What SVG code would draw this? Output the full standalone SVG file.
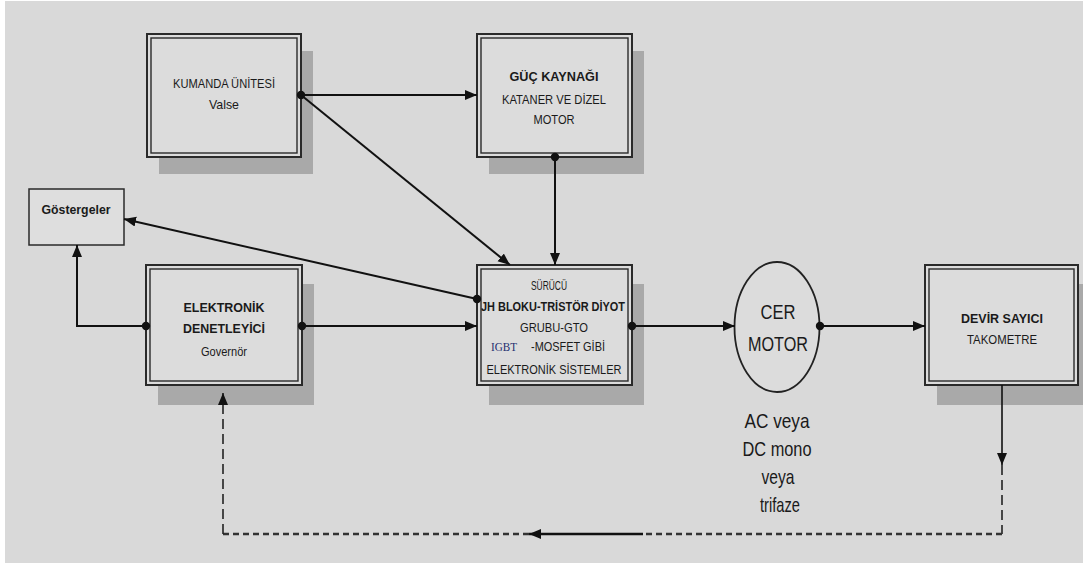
<svg xmlns="http://www.w3.org/2000/svg" width="1083" height="565" viewBox="0 0 1083 565">
  <style>
    .shadow { fill: #a9a9a9; }
    .outer { fill: #dcdcdc; stroke: #2a2a2a; stroke-width: 2; }
    .inner { fill: none; stroke: #2a2a2a; stroke-width: 1.4; }
    .plain { fill: #dedede; stroke: #2a2a2a; stroke-width: 1.5; }
    .t { font-family: "Liberation Sans Narrow", "Liberation Sans", Arial, sans-serif; fill: #1a1a1a; text-anchor: middle; font-size: 13.5px; }
    .b { font-weight: bold; }
    .big { font-size: 21px; }
    .serif { font-family: "Liberation Serif", "Times New Roman", serif; fill: #1f2f70; text-anchor: start; }
    .wire { fill: none; stroke: #111; stroke-width: 2; }
    .dash-v { fill: none; stroke: #222; stroke-width: 1.6; stroke-dasharray: 10 5; }
    .dash-h { fill: none; stroke: #333; stroke-width: 2.6; stroke-dasharray: 6 4; }
  </style>
  <defs>
    <marker id="arrow" markerUnits="userSpaceOnUse" markerWidth="14" markerHeight="12" refX="12" refY="5" orient="auto">
      <path d="M0,0 L12,5 L0,10 z" fill="#111"/>
    </marker>
    <marker id="dot" markerUnits="userSpaceOnUse" markerWidth="10" markerHeight="10" refX="5" refY="5">
      <circle cx="5" cy="5" r="4.2" fill="#111"/>
    </marker>
  </defs>

  <!-- page background -->
  <rect x="0" y="0" width="1083" height="565" fill="#ffffff"/>
  <rect x="5" y="1" width="1078" height="562" fill="#d9d9d9"/>

  <!-- drop shadows -->
  <g id="shadows">
    <rect class="shadow" x="159" y="51" width="154" height="123"/>
    <rect class="shadow" x="489" y="51" width="155" height="123"/>
    <rect class="shadow" x="158" y="284" width="156" height="121"/>
    <rect class="shadow" x="489" y="284" width="155" height="121"/>
    <rect class="shadow" x="937" y="284" width="153" height="121"/>
  </g>

  <g id="kumanda">
    <rect class="outer" x="147" y="34" width="154" height="123"/>
    <rect class="inner" x="151" y="38" width="146" height="115"/>
    <text class="t" x="224" y="88" textLength="102" lengthAdjust="spacingAndGlyphs">KUMANDA ÜNİTESİ</text>
    <text class="t" x="224" y="109" textLength="30" lengthAdjust="spacingAndGlyphs">Valse</text>
  </g>

  <g id="guc-kaynagi">
    <rect class="outer" x="477" y="34" width="155" height="123"/>
    <rect class="inner" x="481" y="38" width="147" height="115"/>
    <text class="t b" x="554" y="81" textLength="89" lengthAdjust="spacingAndGlyphs">GÜÇ KAYNAĞI</text>
    <text class="t" x="554" y="104" textLength="104" lengthAdjust="spacingAndGlyphs">KATANER VE DİZEL</text>
    <text class="t" x="554" y="124" textLength="41" lengthAdjust="spacingAndGlyphs">MOTOR</text>
  </g>

  <g id="gostergeler">
    <rect class="plain" x="29" y="189" width="95" height="56"/>
    <text class="t b" x="76" y="214" textLength="69" lengthAdjust="spacingAndGlyphs">Göstergeler</text>
  </g>

  <g id="elektronik-denetleyici">
    <rect class="outer" x="146" y="265" width="156" height="120"/>
    <rect class="inner" x="150" y="269" width="148" height="112"/>
    <text class="t b" x="224" y="312" textLength="81" lengthAdjust="spacingAndGlyphs">ELEKTRONİK</text>
    <text class="t b" x="224" y="333" textLength="82" lengthAdjust="spacingAndGlyphs">DENETLEYİCİ</text>
    <text class="t" x="224" y="356" textLength="46" lengthAdjust="spacingAndGlyphs">Governör</text>
  </g>

  <g id="surucu">
    <rect class="outer" x="477" y="265" width="155" height="120"/>
    <rect class="inner" x="481" y="269" width="147" height="112"/>
    <text class="t" x="549" y="290" textLength="36" lengthAdjust="spacingAndGlyphs">SÜRÜCÜ</text>
    <text class="t b" x="553" y="311" textLength="144" lengthAdjust="spacingAndGlyphs">JH BLOKU-TRİSTÖR DİYOT</text>
    <text class="t" x="554" y="332" textLength="68" lengthAdjust="spacingAndGlyphs">GRUBU-GTO</text>
    <text class="t serif" x="491" y="351" textLength="26" lengthAdjust="spacingAndGlyphs">IGBT</text>
    <text class="t" x="568" y="351" textLength="74" lengthAdjust="spacingAndGlyphs">-MOSFET GİBİ</text>
    <text class="t" x="554" y="374" textLength="135" lengthAdjust="spacingAndGlyphs">ELEKTRONİK SİSTEMLER</text>
  </g>

  <g id="cer-motor">
    <ellipse cx="777" cy="327" rx="42.5" ry="65" fill="#dcdcdc" stroke="#222" stroke-width="1.8"/>
    <text class="t big" x="778" y="319" textLength="35" lengthAdjust="spacingAndGlyphs">CER</text>
    <text class="t big" x="778" y="351" textLength="60" lengthAdjust="spacingAndGlyphs">MOTOR</text>
    <text class="t big" x="777" y="428" textLength="65" lengthAdjust="spacingAndGlyphs">AC veya</text>
    <text class="t big" x="777" y="456" textLength="69" lengthAdjust="spacingAndGlyphs">DC mono</text>
    <text class="t big" x="778" y="484" textLength="33" lengthAdjust="spacingAndGlyphs">veya</text>
    <text class="t big" x="780" y="512" textLength="40" lengthAdjust="spacingAndGlyphs">trifaze</text>
  </g>

  <g id="devir-sayici">
    <rect class="outer" x="925" y="265" width="153" height="120"/>
    <rect class="inner" x="929" y="269" width="145" height="112"/>
    <text class="t b" x="1002" y="323" textLength="82" lengthAdjust="spacingAndGlyphs">DEVİR SAYICI</text>
    <text class="t" x="1002" y="344" textLength="70" lengthAdjust="spacingAndGlyphs">TAKOMETRE</text>
  </g>

  <g id="connectors">
    <path class="wire" d="M301,95 H477" marker-start="url(#dot)" marker-end="url(#arrow)"/>
    <path class="wire" d="M301,95 L510,265" marker-end="url(#arrow)"/>
    <path class="wire" d="M555,157 V265" marker-start="url(#dot)" marker-end="url(#arrow)"/>
    <path class="wire" d="M477,299 L124,219" marker-start="url(#dot)" marker-end="url(#arrow)"/>
    <path class="wire" d="M146,326 H77 V245" marker-start="url(#dot)" marker-end="url(#arrow)"/>
    <path class="wire" d="M302,326 H477" marker-start="url(#dot)" marker-end="url(#arrow)"/>
    <path class="wire" d="M632,326 H735" marker-start="url(#dot)" marker-end="url(#arrow)"/>
    <path class="wire" d="M820,326 H925" marker-start="url(#dot)" marker-end="url(#arrow)"/>
    <!-- feedback loop from the tachometer back to the governor -->
    <path class="wire" d="M1002,385 V465" marker-end="url(#arrow)" style="stroke-width:1.6"/>
    <path class="dash-v" d="M1002,465 V534"/>
    <path class="dash-h" d="M1002,534 H643"/>
    <path class="wire" d="M643,534 H529" marker-end="url(#arrow)" style="stroke-width:2.6"/>
    <path class="dash-h" d="M529,534 H223"/>
    <path class="dash-v" d="M223,534 V393" marker-end="url(#arrow)"/>
  </g>
</svg>
